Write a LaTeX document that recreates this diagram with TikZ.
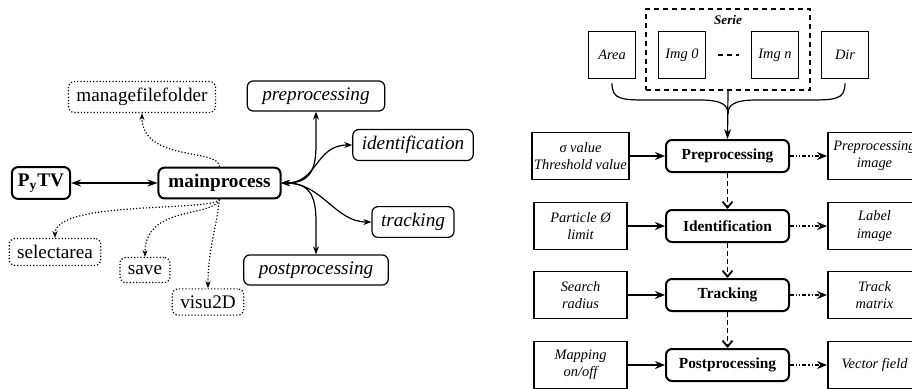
\documentclass[tikz,border=0pt]{standalone}
\usepackage{fontspec}
\setmainfont{Liberation Serif}
\usetikzlibrary{arrows.meta}

\tikzset{
  mainbox/.style={draw, line width=1pt, rounded corners=3pt, minimum height=14.5pt,
    inner xsep=5pt, font=\fontsize{9.6}{11.5}\selectfont\bfseries},
  stagebox/.style={draw, semithick, rounded corners=3pt, minimum height=13.5pt,
    inner xsep=4.5pt, font=\fontsize{9.6}{11.5}\selectfont\itshape},
  toolbox/.style={draw, densely dotted, semithick, rounded corners=3pt,
    minimum height=12.5pt, inner xsep=4pt, font=\fontsize{9.6}{11.5}\selectfont},
  procbox/.style={draw, line width=1pt, rounded corners=3pt, minimum width=61.5pt,
    minimum height=16pt, font=\fontsize{7.7}{9}\selectfont\bfseries},
  parambox/.style={draw, line width=0.9pt, minimum width=46.5pt, minimum height=23.5pt,
    inner sep=1pt, align=center, font=\fontsize{7.2}{8.6}\selectfont\itshape},
  srcbox/.style={draw, line width=0.9pt, minimum size=23.5pt, inner sep=1pt,
    font=\fontsize{7.2}{8.6}\selectfont\itshape},
  link/.style={line width=0.9pt, {Stealth[length=5pt,width=3.5pt]}-{Stealth[length=5pt,width=3.5pt]}},
  stagelink/.style={semithick, {Stealth[length=4pt,width=3pt]}-{Stealth[length=4pt,width=3pt]}},
  toollink/.style={densely dotted, semithick, -{Stealth[length=3.5pt,width=2.5pt]}},
  feed/.style={line width=0.9pt, -{Stealth[length=5pt,width=4pt]}},
  output/.style={line width=0.8pt, dash pattern=on 2pt off 1pt on 0.6pt off 1pt on 0.6pt off 1pt,
    -{Stealth[length=5pt,width=4pt]}},
  flow/.style={line width=0.9pt, dash pattern=on 2.5pt off 1.5pt,
    -{Straight Barb[length=3pt,width=5pt]}},
}

\begin{document}
\begin{tikzpicture}[x=0.5pt,y=-0.5pt]
  \useasboundingbox (0,0) rectangle (912,388);

  % module tree of the program
  \node[mainbox, inner xsep=3pt] (pytv) at (41,183) {P\textsubscript{y}TV};
  \node[mainbox] (main) at (219.5,183) {mainprocess};
  \node[toolbox] (manage) at (142,97) {managefilefolder};
  \node[toolbox] (select) at (55,252) {selectarea};
  \node[toolbox] (save) at (145,270) {save};
  \node[toolbox] (visu) at (208,302) {visu2D};
  \node[stagebox, inner xsep=7.5pt] (spre) at (316,96) {preprocessing};
  \node[stagebox] (sident) at (413,145) {identification};
  \node[stagebox] (strack) at (413,222) {tracking};
  \node[stagebox, inner xsep=7.5pt] (spost) at (316,270) {postprocessing};

  \draw[link] (pytv) -- (main);
  \draw[stagelink] (main.east) .. controls (310,183) and (316,170) .. (316,145) -- (spre.south);
  \draw[stagelink] (main.east) .. controls (318,183) and (315,145) .. (sident.west);
  \draw[stagelink] (main.east) .. controls (322,183) and (335,222) .. (strack.west);
  \draw[stagelink] (main.east) .. controls (310,183) and (316,196) .. (316,222) -- (spost.north);

  \draw[toollink] (main.north) .. controls (219,148) and (142,162) .. (manage.south);
  \draw[toollink] (main.south) .. controls (212,212) and (55,200) .. (select.north);
  \draw[toollink] (main.south) .. controls (212,218) and (145,205) .. (save.north);
  \draw[toollink] (main.south) .. controls (216,230) and (208,250) .. (visu.north);

  % processing chain
  \node[srcbox] (area) at (612,55) {Area};
  \node[srcbox] (img0) at (682,55) {Img 0};
  \node[srcbox] (imgn) at (775,55) {Img n};
  \node[srcbox] (dir) at (845,55) {Dir};
  \node[draw, line width=0.9pt, dash pattern=on 2.5pt off 2pt, minimum width=82pt,
    minimum height=40.5pt] (serie) at (728,49.5) {};
  \node[font=\fontsize{6.6}{8}\selectfont\bfseries\itshape] (serielabel) at (728,20) {Serie};
  \draw[line width=0.9pt, dash pattern=on 2.5pt off 2pt, shorten <=6pt, shorten >=6pt]
    (img0.east) -- (imgn.west);

  \node[procbox] (prep) at (727.5,156) {Preprocessing};
  \node[procbox] (ident) at (727.5,226) {Identification};
  \node[procbox] (track) at (727.5,295) {Tracking};
  \node[procbox] (post) at (727.5,365) {Postprocessing};

  \node[parambox] (pprep) at (580.5,156) {σ value\\Threshold value};
  \node[parambox] (pident) at (580.5,226) {Particle Ø\\limit};
  \node[parambox] (ptrack) at (580.5,295) {Search\\radius};
  \node[parambox] (ppost) at (580.5,365) {Mapping\\on/off};

  \node[parambox] (rprep) at (874.5,156) {Preprocessing\\image};
  \node[parambox] (rident) at (874.5,226) {Label\\image};
  \node[parambox] (rtrack) at (874.5,295) {Track\\matrix};
  \node[parambox] (rpost) at (874.5,365) {Vector field};

  % brace gathering the inputs
  \coordinate (join) at (728,114);
  \draw[semithick] ([yshift=-2pt]area.south) .. controls (612,100) and (622,100) .. (650,100)
    -- (700,100) .. controls (722,100) and (728,105) .. (join);
  \draw[semithick] ([yshift=-2pt]dir.south) .. controls (845,100) and (835,100) .. (806,100)
    -- (756,100) .. controls (734,100) and (728,105) .. (join);
  \draw[semithick, -{Stealth[length=5pt,width=3.5pt]}] (serie.south) -- (prep.north);

  \draw[feed] (pprep) -- (prep);
  \draw[feed] (pident) -- (ident);
  \draw[feed] (ptrack) -- (track);
  \draw[feed] (ppost) -- (post);

  \draw[output] (prep) -- (rprep);
  \draw[output] (ident) -- (rident);
  \draw[output] (track) -- (rtrack);
  \draw[output] (post) -- (rpost);

  \draw[flow] (prep) -- (ident);
  \draw[flow] (ident) -- (track);
  \draw[flow] (track) -- (post);
\end{tikzpicture}
\end{document}
